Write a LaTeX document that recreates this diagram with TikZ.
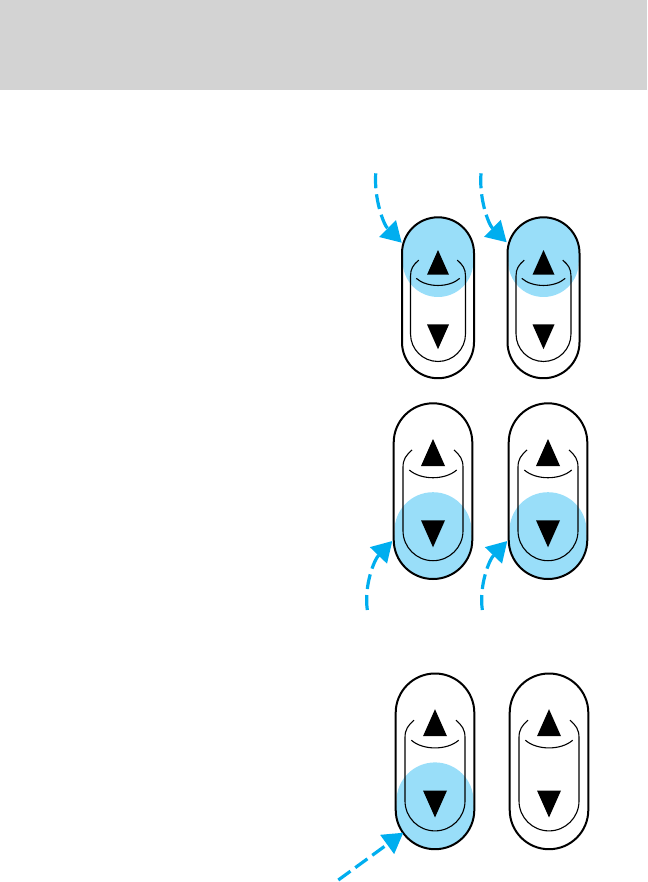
\documentclass[tikz,border=0pt]{standalone}
\usetikzlibrary{arrows.meta}
\definecolor{headgray}{HTML}{D3D3D3}
\definecolor{hilite}{HTML}{99DEF9}
\definecolor{callblue}{HTML}{00AEEF}
\tikzset{
  outerline/.style={black, line width=2pt},
  innerline/.style={black, line width=1.1pt},
  callout/.style={callblue, line width=3.2pt, dash pattern=on 15pt off 6pt,
    -{Triangle[length=20pt,width=23pt]}},
  switchbody/.pic={
    \draw[outerline] (-39.3,39.3) arc (180:360:39.3) -- (39.3,136.4) arc (0:180:39.3) -- cycle;
    \draw[innerline] (-21,46.7) .. controls (-27,52) and (-30,56) .. (-30,64) -- (-30,127.4) arc (180:0:30) -- (30,64) .. controls (30,56) and (27,52) .. (21,46.7);
    \draw[innerline] (-23.7,66.7) .. controls (-12,77) and (12,77) .. (23.7,66.7);
    \fill (0,35.7) -- (12,62.7) -- (-12,62.7) -- cycle;
    \fill (0,144) -- (12,117) -- (-12,117) -- cycle;
  },
  hiliteup/.pic={
    \fill[hilite] (-39,39.3) arc (180:360:39) -- (38.5,48.5) arc (0:180:38.5) -- cycle;
  },
  hilitedown/.pic={
    \fill[hilite] (-39,136.4) arc (180:0:39) -- (38.5,127.4) arc (360:180:38.5) -- cycle;
  },
}
\begin{document}
\begin{tikzpicture}[x=1pt,y=-1pt]
  \useasboundingbox (0,0) rectangle (647,882);
  \fill[headgray] (0,0) rectangle (647,90);

  \foreach \x in {438,543.5} \pic[scale=0.916] at (\x,217.3) {hiliteup};
  \foreach \x in {433,548} \pic at (\x,403.3) {hilitedown};
  \pic at (435,673.5) {hilitedown};

  \foreach \x in {438,543.5} \pic[scale=0.916] at (\x,217.3) {switchbody};
  \foreach \x in {433,548} \pic at (\x,403.3) {switchbody};
  \foreach \x in {435,549} \pic at (\x,673.5) {switchbody};

  \coordinate (starta) at (375.7,173.3);
  \coordinate (tipa) at (401.7,242.7);
  \coordinate (startb) at (481,173.3);
  \coordinate (tipb) at (506.7,242.3);
  \coordinate (startc) at (367.3,610);
  \coordinate (tipc) at (392.3,541);
  \coordinate (startd) at (482.3,610);
  \coordinate (tipd) at (507.3,541);
  \coordinate (starte) at (338.3,880);
  \coordinate (tipe) at (403.3,832.7);

  \draw[callout] (starta) .. controls (374,198) and (383,224) .. (tipa);
  \draw[callout] (startb) .. controls (479,198) and (488,224) .. (tipb);
  \draw[callout] (startc) .. controls (364,585) and (374,560) .. (tipc);
  \draw[callout] (startd) .. controls (479,585) and (489,560) .. (tipd);
  \draw[callout] (starte) -- (tipe);
\end{tikzpicture}
\end{document}
